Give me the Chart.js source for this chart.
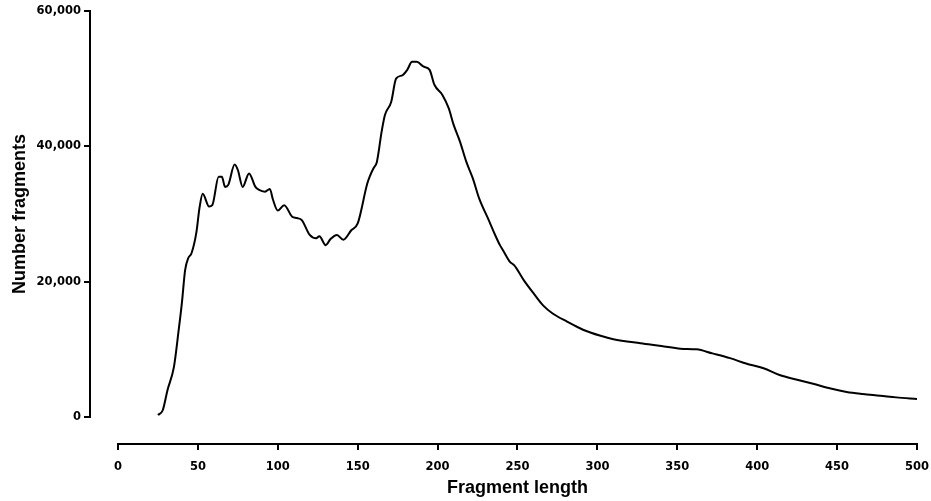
<!DOCTYPE html>
<html>
<head>
<meta charset="utf-8">
<script src="https://cdn.jsdelivr.net/npm/chart.js@4.4.1/dist/chart.umd.min.js"></script>
<style>
  html, body { margin: 0; padding: 0; background: #fff; }
  #wrap { width: 931px; height: 501px; }
</style>
</head>
<body>
<div id="wrap"><canvas id="graphCanvas" width="931" height="501"></canvas></div>
<script>
// fragment length (x) and number of fragments (y)
const fragLength = [
  25, 28, 31, 35, 38, 40, 42, 44, 46, 49, 51, 53, 57, 59, 63, 65, 67, 69, 73, 75,
  78, 82, 86, 88, 92, 95, 97, 100, 104, 109, 112, 115, 120, 124, 126, 130, 133, 137, 141, 146,
  150, 156, 158, 160, 162, 165, 167, 171, 174, 178, 181, 184, 187, 191, 195, 198, 203, 207, 210, 214,
  218, 222, 226, 232, 236, 239, 241, 245, 248, 254, 260, 266, 272, 281, 291, 302, 310, 327, 340, 352,
  362, 372, 383, 393, 404, 414, 425, 435, 446, 456, 466, 477, 487, 500
];
const fragCount = [
  300, 1000, 4000, 7400, 12900, 16900, 21700, 23500, 24200, 27200, 30900, 33000, 31100, 31300, 35500, 35500, 34000, 34300, 37300, 36500,
  34000, 36000, 34000, 33600, 33300, 33700, 32100, 30500, 31300, 29600, 29400, 29100, 26900, 26400, 26700, 25400, 26300, 26900, 26200, 27600,
  28600, 34500, 35800, 36800, 37700, 42200, 44600, 46600, 50000, 50500, 51300, 52500, 52500, 51800, 51300, 49100, 47600, 45600, 43200, 40700,
  37700, 35300, 32300, 29100, 26900, 25400, 24600, 23000, 22400, 20200, 18300, 16500, 15300, 14100, 12900, 12000, 11500, 10900, 10500, 10100,
  10000, 9400, 8700, 7900, 7200, 6200, 5500, 4900, 4200, 3700, 3400, 3150, 2900, 2650
];
const yTicks = [0, 20000, 40000, 60000];
const xTicks = [0, 50, 100, 150, 200, 250, 300, 350, 400, 450, 500];

const tickFont = { family: 'DejaVu Sans', size: 11.5, weight: 'bold' };
const titleFont = { family: 'Liberation Sans', size: 18, weight: 'bold' };

const pontos = fragLength.map((x, i) => ({ x: x, y: fragCount[i] }));

// empty axes used only to push the real axes away from the plot (detached axes)
function espacador(pos, tamanho) {
  return {
    type: 'linear',
    position: pos,
    weight: 0,
    display: true,
    ticks: { display: false },
    grid: { display: false },
    border: { display: false },
    afterFit: (s) => {
      if (pos === 'left') s.width = tamanho; else s.height = tamanho;
    }
  };
}

const ctx = document.getElementById('graphCanvas').getContext('2d');
new Chart(ctx, {
  type: 'line',
  data: {
    datasets: [{
      data: pontos,
      borderColor: '#000',
      borderWidth: 2,
      pointRadius: 0,
      fill: false,
      tension: 0.3,
      cubicInterpolationMode: 'monotone'
    }]
  },
  options: {
    responsive: false,
    animation: false,
    layout: { padding: { left: 0, top: 11, right: 14, bottom: 0 } },
    scales: {
      x: {
        type: 'linear',
        position: 'bottom',
        weight: 10,
        min: 0,
        max: 500,
        afterBuildTicks: (s) => { s.ticks = xTicks.map(v => ({ value: v })); },
        afterFit: (s) => { s.height = 57; },
        ticks: { color: '#000', font: { ...tickFont, lineHeight: 2.6 }, padding: 2, maxRotation: 0 },
        grid: { drawOnChartArea: false, drawTicks: true, tickLength: 6, color: '#000', lineWidth: 2 },
        border: { display: true, color: '#000', width: 2 },
        title: { display: true, text: 'Fragment length', color: '#000', font: titleFont, padding: { top: 0, bottom: 2 } }
      },
      y: {
        type: 'linear',
        position: 'left',
        weight: 10,
        min: 0,
        max: 60000,
        afterBuildTicks: (s) => { s.ticks = yTicks.map(v => ({ value: v })); },
        afterFit: (s) => { s.width = 90; },
        ticks: {
          color: '#000', font: tickFont, padding: 3,
          callback: (v) => v.toLocaleString('en-US')
        },
        grid: { drawOnChartArea: false, drawTicks: true, tickLength: 6, color: '#000', lineWidth: 2 },
        border: { display: true, color: '#000', width: 2 },
        title: { display: true, text: 'Number fragments', color: '#000', font: titleFont, padding: { top: 9, bottom: 0 } }
      },
      gapX: espacador('bottom', 27),
      gapY: espacador('left', 28)
    },
    plugins: {
      legend: { display: false },
      tooltip: { enabled: false }
    }
  }
});
</script>
</body>
</html>
